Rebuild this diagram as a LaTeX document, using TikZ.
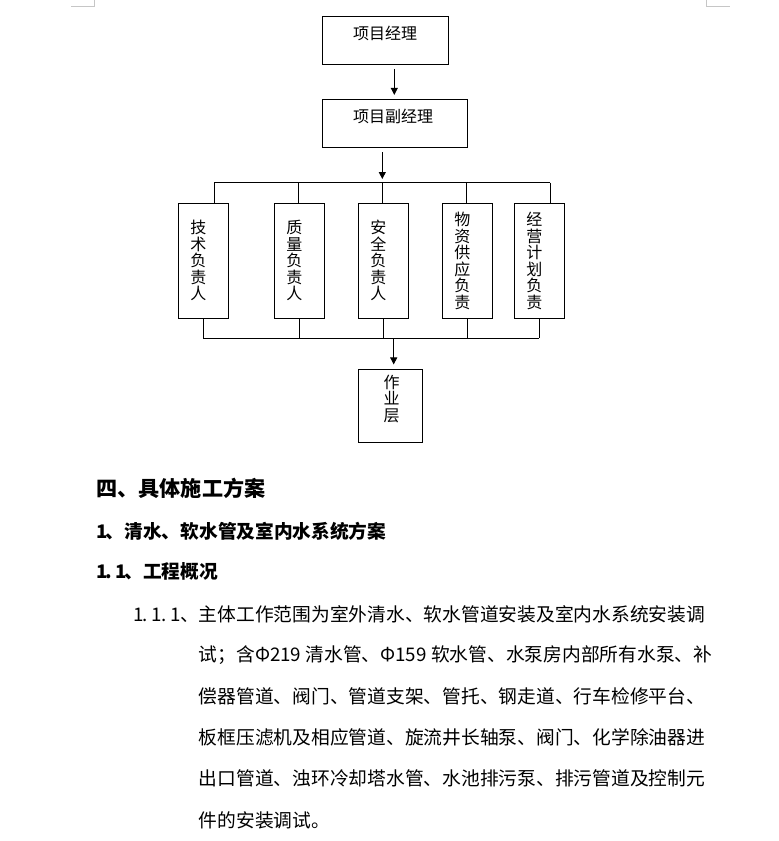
\documentclass[tikz,border=0pt]{standalone}
\usepackage{fontspec}
\newfontfamily\cjk{Noto Sans CJK SC}
\usetikzlibrary{arrows.meta,positioning}

% half-width cell for numbering
\newcommand{\hw}[1]{\makebox[0.5em][l]{#1}}

\tikzset{
  box/.style={draw, inner sep=0pt},
  arr/.style={-{Triangle[length=7pt,width=7pt]}},
  chart/.style={font=\cjk\fontsize{16}{16.5}\selectfont, inner sep=0pt},
  vtext/.style={chart, align=center},
  heading/.style={font=\cjk\bfseries\fontsize{#1}{#1}\selectfont, anchor=west, inner sep=0pt},
  body/.style={font=\cjk\fontsize{18.75}{20}\selectfont, anchor=west, inner sep=0pt}
}

\begin{document}
\begin{tikzpicture}[x=1pt, y=-1pt, line width=1pt]
    \useasboundingbox (0,0) rectangle (779,841);

    % Page corner marks
    \draw[gray!45] (71,6.3) -- (94.3,6.3) -- (94.3,0);
    \draw[gray!45] (706.3,0) -- (706.3,6.3) -- (730,6.3);

    % Managers
    \node[box, minimum width=126pt, minimum height=48pt] (pm) at (385.5,40) {};
    \node[chart] (pmt) at (385,33) {项目经理};
    \node[box, minimum width=145pt, minimum height=48pt] (ppm) at (395,123) {};
    \node[chart] (ppmt) at (393,116) {项目副经理};

    % Heads of departments
    \foreach \n/\x in {b1/203.3, b2/299.3, b3/383.3, b4/467.3, b5/539.3}
        \node[box, minimum width=50pt, minimum height=115pt] (\n) at (\x,260.7) {};
    \node[vtext] (b1t) at ([xshift=-5pt]b1.center) {技\\术\\负\\责\\人};
    \node[vtext] (b2t) at ([xshift=-5pt]b2.center) {质\\量\\负\\责\\人};
    \node[vtext] (b3t) at ([xshift=-5pt]b3.center) {安\\全\\负\\责\\人};
    \node[vtext] (b4t) at ([xshift=-5pt]b4.center) {物\\资\\供\\应\\负\\责};
    \node[vtext] (b5t) at ([xshift=-5pt]b5.center) {经\\营\\计\\划\\负\\责};

    % Work level
    \node[box, minimum width=63.6pt, minimum height=72.7pt] (work) at (390.5,406.3) {};
    \node[vtext] (workt) at (391.5,399) {作\\业\\层};

    % Connectors
    \coordinate (a1) at (394.3,0);
    \coordinate (top) at (382.3,182.7);
    \coordinate (bot) at (393.7,338.3);
    \draw[arr, shorten <=4.3pt, shorten >=3.6pt] (pm.south -| a1) -- (ppm.north -| a1);
    \draw[arr, shorten <=4.7pt, shorten >=3.7pt] (ppm.south -| top) -- (top);
    \draw ([xshift=11pt]b1.north |- top) -- ([xshift=10.7pt]b5.north |- top);
    \draw ([xshift=11pt]b1.north |- top) -- ([xshift=11pt]b1.north);
    \foreach \n in {b2,b3,b4}
        \draw ([xshift=-1pt]\n.north |- top) -- ([xshift=-1pt]\n.north);
    \draw ([xshift=10.7pt]b5.north |- top) -- ([xshift=10.7pt]b5.north);
    \foreach \n in {b1,b2,b3,b4,b5}
        \draw (\n.south) -- (\n.south |- bot);
    \draw (b1.south |- bot) -- (b5.south |- bot);
    \draw[arr, shorten >=5pt] (bot) -- (bot |- work.north);

    % Text below the chart
    \node[heading=21.1] (h1) at (96,488.3) {四、具体施工方案};
    \node[heading=18.7] (h2) at (96,531) {\hw{1}、清水、软水管及室内水系统方案};
    \node[heading=18.7] (h3) at (96,571) {\hw{1}\hw{.}\hw{1}、工程概况};
    \node[body] (l1) at (132.7,614) {\hw{1}\hw{.}\hw{1}\hw{.}\hw{1}、主体工作范围为室外清水、软水管道安装及室内水系统安装调};
    \node[body] (l2) at (198.3,655) {试；含Φ219 清水管、Φ159 软水管、水泵房内部所有水泵、补};
    \node[body] (l3) at (198.3,696) {偿器管道、阀门、管道支架、管托、钢走道、行车检修平台、};
    \node[body] (l4) at (198.3,737) {板框压滤机及相应管道、旋流井长轴泵、阀门、化学除油器进};
    \node[body] (l5) at (198.3,778) {出口管道、浊环冷却塔水管、水池排污泵、排污管道及控制元};
    \node[body] (l6) at (198.3,820) {件的安装调试。};
\end{tikzpicture}
\end{document}
